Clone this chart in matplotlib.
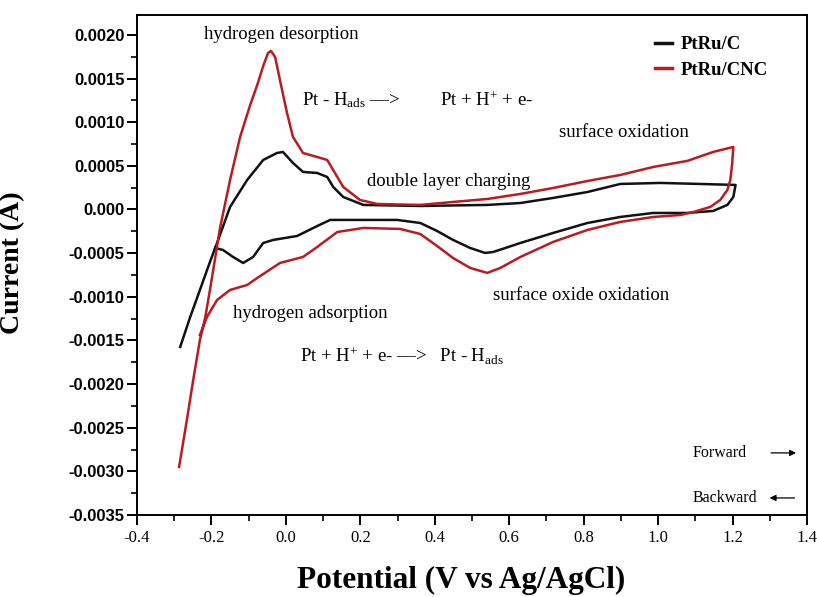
"""Cyclic voltammograms of PtRu/C and PtRu/CNC with annotated regions."""

import matplotlib

matplotlib.use("Agg")
import matplotlib.pyplot as plt
from matplotlib.ticker import FixedLocator, FixedFormatter, MultipleLocator

plt.rcParams["font.family"] = ["Liberation Serif", "DejaVu Serif"]
plt.rcParams["mathtext.fontset"] = "custom"
plt.rcParams["mathtext.rm"] = "Liberation Serif"
plt.rcParams["mathtext.it"] = "Liberation Serif:italic"

# PtRu/C: one closed sweep, potential in V and current in mA
ptru_c_v = [
    -0.284, -0.258, -0.231, -0.204, -0.182, -0.150, -0.104, -0.061, -0.024, -0.008,
    0.019, 0.046, 0.084, 0.111, 0.127, 0.154, 0.208, 0.361, 0.541, 0.630,
    0.718, 0.810, 0.898, 1.006, 1.113, 1.208, 1.202, 1.186, 1.148, 1.078,
    0.987, 0.898, 0.810, 0.718, 0.630, 0.557, 0.535, 0.495, 0.449, 0.406,
    0.361, 0.299, 0.119, 0.084, 0.030, -0.034, -0.061, -0.088, -0.115, -0.142,
    -0.169, -0.190,
]
ptru_c_i = [
    -1.575, -1.243, -0.922, -0.601, -0.349, 0.029, 0.338, 0.567, 0.647, 0.659,
    0.533, 0.430, 0.418, 0.372, 0.258, 0.143, 0.052, 0.040, 0.052, 0.074,
    0.132, 0.200, 0.292, 0.304, 0.292, 0.281, 0.143, 0.052, -0.017, -0.040,
    -0.040, -0.086, -0.155, -0.269, -0.384, -0.487, -0.498, -0.441, -0.349, -0.246,
    -0.155, -0.120, -0.120, -0.190, -0.304, -0.349, -0.384, -0.544, -0.613, -0.544,
    -0.464, -0.441,
]

# PtRu/CNC
ptru_cnc_v = [
    -0.287, -0.266, -0.249, -0.231, -0.217, -0.204, -0.190, -0.177, -0.150, -0.123,
    -0.096, -0.077, -0.061, -0.048, -0.040, -0.029, -0.016, 0.003, 0.019, 0.046,
    0.084, 0.111, 0.127, 0.154, 0.199, 0.245, 0.361, 0.449, 0.541, 0.630,
    0.718, 0.810, 0.898, 0.987, 1.078, 1.148, 1.202, 1.199, 1.194, 1.186,
    1.167, 1.140, 1.095, 1.060, 0.987, 0.898, 0.810, 0.718, 0.630, 0.576,
    0.541, 0.495, 0.449, 0.406, 0.361, 0.307, 0.208, 0.138, 0.084, 0.046,
    -0.016, -0.077, -0.104, -0.150, -0.185, -0.212, -0.231,
]
ptru_cnc_i = [
    -2.950, -2.411, -1.953, -1.495, -1.243, -0.922, -0.556, -0.212, 0.338, 0.831,
    1.197, 1.426, 1.644, 1.793, 1.816, 1.747, 1.483, 1.105, 0.831, 0.647,
    0.601, 0.567, 0.452, 0.258, 0.109, 0.063, 0.052, 0.086, 0.120, 0.178,
    0.246, 0.326, 0.395, 0.487, 0.556, 0.659, 0.716, 0.533, 0.338, 0.223,
    0.109, 0.029, -0.029, -0.063, -0.086, -0.143, -0.235, -0.372, -0.544, -0.670,
    -0.727, -0.670, -0.556, -0.418, -0.281, -0.223, -0.212, -0.258, -0.430, -0.544,
    -0.613, -0.785, -0.865, -0.922, -1.037, -1.231, -1.438,
]

y_ticks = [0.0020, 0.0015, 0.0010, 0.0005, 0.0, -0.0005, -0.0010, -0.0015,
           -0.0020, -0.0025, -0.0030, -0.0035]
y_tick_labels = ["0.0020", "0.0015", "0.0010", "0.0005", "0.000", "-0.0005", "-0.0010",
                 "-0.0015", "-0.0020", "-0.0025", "-0.0030", "-0.0035"]
x_ticks = [-0.4, -0.2, 0.0, 0.2, 0.4, 0.6, 0.8, 1.0, 1.2, 1.4]
x_tick_labels = ["-0.4", "-0.2", "0.0", "0.2", "0.4", "0.6", "0.8", "1.0", "1.2", "1.4"]

BLACK = "#111111"
RED = "#b81c22"
ANNOT_FS = 13.5

fig = plt.figure(figsize=(8.17, 5.97), dpi=100)
ax = fig.add_axes([0.1677, 0.1374, 0.8201, 0.8375])

ax.plot(ptru_c_v, [i * 1e-3 for i in ptru_c_i], color=BLACK, lw=1.8, label="PtRu/C")
ax.plot(ptru_cnc_v, [i * 1e-3 for i in ptru_cnc_i], color=RED, lw=1.8, label="PtRu/CNC")

ax.set_xlim(-0.4, 1.4)
ax.set_ylim(-0.0035, 0.002228)

ax.xaxis.set_major_locator(FixedLocator(x_ticks))
ax.xaxis.set_major_formatter(FixedFormatter(x_tick_labels))
ax.xaxis.set_minor_locator(MultipleLocator(0.1))
ax.yaxis.set_major_locator(FixedLocator(y_ticks))
ax.yaxis.set_major_formatter(FixedFormatter(y_tick_labels))
ax.yaxis.set_minor_locator(MultipleLocator(0.00025))

ax.tick_params(which="major", direction="out", length=7, width=1.4)
ax.tick_params(which="minor", direction="out", length=4, width=1.2)
ax.tick_params(axis="x", which="major", labelsize=12, pad=4)
ax.tick_params(axis="y", which="major", labelsize=12, pad=2)
for lbl in ax.get_yticklabels():
    lbl.set_family(["Liberation Sans", "DejaVu Sans"])
    lbl.set_fontweight("bold")
for spine in ax.spines.values():
    spine.set_linewidth(1.4)

ax.set_xlabel("Potential (V vs Ag/AgCl)", fontsize=22.5, fontweight="bold")
ax.set_ylabel("Current (A)", fontsize=20, fontweight="bold")
ax.xaxis.set_label_coords(0.4836, -0.102)
ax.yaxis.set_label_coords(-0.167, 0.504)

leg = ax.legend(
    loc="upper left",
    bbox_to_anchor=(0.773, 0.958),
    frameon=False,
    borderpad=0,
    borderaxespad=0,
    handlelength=0.9,
    handletextpad=0.5,
    labelspacing=0.45,
    prop={"family": "Liberation Serif", "weight": "bold", "size": 13.5},
)
for line in leg.get_lines():
    line.set_linewidth(2.5)

ax.text(-0.013, 0.00200, "hydrogen desorption", fontsize=ANNOT_FS, ha="center", va="center")
ax.text(0.044, 0.00125, r"Pt - H$_{\mathregular{ads}}$ —>", fontsize=ANNOT_FS, ha="left", va="center")
ax.text(0.415, 0.00125, r"Pt + H$^{+}$ + e-", fontsize=ANNOT_FS, ha="left", va="center")
ax.text(0.909, 0.000876, "surface oxidation", fontsize=ANNOT_FS, ha="center", va="center")
ax.text(0.436, 0.000315, "double layer charging", fontsize=ANNOT_FS, ha="center", va="center")
ax.text(0.794, -0.000991, "surface oxide oxidation", fontsize=ANNOT_FS, ha="center", va="center")
ax.text(0.065, -0.001197, "hydrogen adsorption", fontsize=ANNOT_FS, ha="center", va="center")
ax.text(0.038, -0.001678, r"Pt + H$^{+}$ + e- —>   Pt - H$_{\mathregular{ads}}$",
        fontsize=ANNOT_FS, ha="left", va="center")

ax.text(1.092, -0.002789, "Forward", fontsize=11.5, ha="left", va="center")
ax.text(1.092, -0.003305, "Backward", fontsize=11.5, ha="left", va="center")
ax.annotate("", xy=(1.378, -0.002789), xytext=(1.296, -0.002789),
            arrowprops=dict(arrowstyle="-|>", color="black", lw=0.9, mutation_scale=9))
ax.annotate("", xy=(1.292, -0.003305), xytext=(1.374, -0.003305),
            arrowprops=dict(arrowstyle="-|>", color="black", lw=0.9, mutation_scale=9))

fig.savefig("out.png", dpi=100)
